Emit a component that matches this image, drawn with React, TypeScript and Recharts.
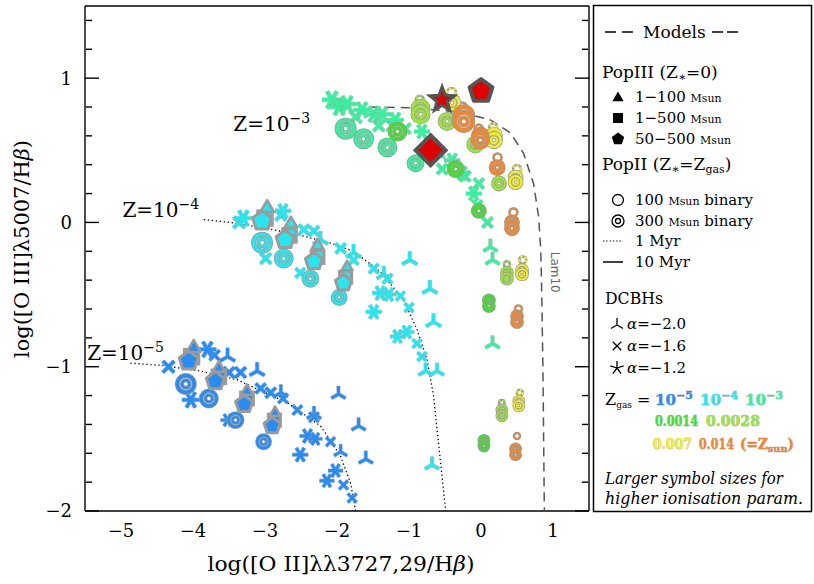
import { ScatterChart, Scatter, XAxis, YAxis } from "recharts";

const FONT = "'DejaVu Serif', 'Liberation Serif', serif";
const GRAY = "#9b9b9b";

// gas metallicity colours
const zColors = {
  z5: "#2a8cf0",
  z4: "#27e6f0",
  z3: "#38f0a0",
  z14: "#3ee02a",
  z28: "#9be636",
  z7: "#f3ef26",
  zsun: "#f3862a",
};

const xDomain = [-5.5, 1.5];
const yDomain = [-2, 1.5];
const xMajor = [-5, -4, -3, -2, -1, 0, 1];
const xMinor = [-4.5, -3.5, -2.5, -1.5, -0.5, 0.5];
const yMajor = [-2, -1, 0, 1];
const yMinor = [-1.8, -1.6, -1.4, -1.2, -0.8, -0.6, -0.4, -0.2, 0.2, 0.4, 0.6, 0.8, 1.2, 1.4];

// ---- Z = 1e-5
const z5Pent = [{ x: -4.06, y: -0.96, s: 1 }, { x: -3.69, y: -1.1, s: 0.95 }, { x: -3.29, y: -1.26, s: 0.9 }, { x: -2.9, y: -1.41, s: 0.85 }];
const z5Tria = [{ x: -3.99, y: -0.87, s: 1 }, { x: -3.64, y: -1.01, s: 0.9 }, { x: -3.25, y: -1.17, s: 0.85 }, { x: -2.86, y: -1.32, s: 0.8 }];
const z5Sq = [{ x: -4.02, y: -0.93, s: 0.9 }, { x: -3.64, y: -1.07, s: 0.85 }, { x: -3.25, y: -1.22, s: 0.8 }, { x: -2.87, y: -1.37, s: 0.75 }];
const z5Dc = [{ x: -4.1, y: -1.12, s: 1 }, { x: -3.78, y: -1.22, s: 0.9 }, { x: -3.41, y: -1.37, s: 0.8 }, { x: -3.02, y: -1.52, s: 0.75 }];
const z5Cross = [
  { x: -4.34, y: -1.0, s: 0.9 }, { x: -3.7, y: -0.92, s: 0.8 }, { x: -3.5, y: -1.04, s: 0.85 }, { x: -3.34, y: -1.04, s: 0.85 },
  { x: -3.06, y: -1.15, s: 0.8 }, { x: -2.92, y: -1.18, s: 0.8 }, { x: -2.75, y: -1.22, s: 0.75 }, { x: -2.55, y: -1.3, s: 0.75 },
  { x: -2.32, y: -1.35, s: 0.75 }, { x: -2.09, y: -1.52, s: 0.7 }, { x: -1.91, y: -1.82, s: 0.7 }, { x: -1.79, y: -1.91, s: 0.7 },
];
const z5Tri = [
  { x: -3.52, y: -0.93, s: 0.8 }, { x: -3.11, y: -1.03, s: 0.8 }, { x: -2.78, y: -1.18, s: 0.75 }, { x: -2.32, y: -1.33, s: 0.75 },
  { x: -1.98, y: -1.19, s: 0.75 }, { x: -1.7, y: -1.41, s: 0.75 }, { x: -1.6, y: -1.64, s: 0.75 }, { x: -1.95, y: -1.59, s: 0.7 },
];
const z5Ast = [
  { x: -3.8, y: -0.88, s: 0.9 }, { x: -4.03, y: -1.23, s: 0.9 }, { x: -3.52, y: -1.37, s: 0.7 }, { x: -2.51, y: -1.61, s: 0.8 },
  { x: -2.41, y: -1.48, s: 0.8 }, { x: -2.3, y: -1.5, s: 0.7 }, { x: -2.14, y: -1.79, s: 0.75 }, { x: -2.02, y: -1.72, s: 0.75 },
];

// ---- Z = 1e-4
const z4Pent = [{ x: -3.04, y: 0.01, s: 1 }, { x: -2.72, y: -0.12, s: 0.95 }, { x: -2.32, y: -0.27, s: 0.9 }, { x: -1.91, y: -0.42, s: 0.85 }];
const z4Tria = [{ x: -2.97, y: 0.1, s: 1 }, { x: -2.64, y: -0.01, s: 0.9 }, { x: -2.27, y: -0.16, s: 0.85 }, { x: -1.86, y: -0.31, s: 0.8 }];
const z4Sq = [{ x: -3.0, y: 0.03, s: 0.9 }, { x: -2.66, y: -0.09, s: 0.85 }, { x: -2.27, y: -0.24, s: 0.8 }, { x: -1.88, y: -0.38, s: 0.75 }];
const z4Dc = [{ x: -3.04, y: -0.14, s: 1 }, { x: -2.74, y: -0.25, s: 0.9 }, { x: -2.37, y: -0.39, s: 0.8 }, { x: -1.97, y: -0.52, s: 0.75 }];
const z4Cross = [
  { x: -3.36, y: 0.0, s: 0.9 }, { x: -2.99, y: -0.25, s: 0.85 }, { x: -2.78, y: 0.05, s: 0.85 }, { x: -2.46, y: -0.05, s: 0.8 },
  { x: -2.32, y: -0.06, s: 0.8 }, { x: -2.51, y: -0.35, s: 0.75 }, { x: -1.95, y: -0.18, s: 0.8 }, { x: -1.77, y: -0.26, s: 0.75 },
  { x: -1.49, y: -0.32, s: 0.75 }, { x: -1.3, y: -0.39, s: 0.75 }, { x: -1.12, y: -0.51, s: 0.7 }, { x: -1.0, y: -0.59, s: 0.7 },
  { x: -0.89, y: -0.84, s: 0.7 }, { x: -0.82, y: -0.93, s: 0.7 },
];
const z4Tri = [
  { x: -2.23, y: -0.12, s: 0.8 }, { x: -1.77, y: -0.21, s: 0.8 }, { x: -1.35, y: -0.36, s: 0.75 }, { x: -0.99, y: -0.26, s: 0.8 },
  { x: -0.71, y: -0.46, s: 0.8 }, { x: -0.66, y: -0.69, s: 0.8 }, { x: -0.77, y: -1.03, s: 0.75 }, { x: -0.61, y: -1.03, s: 0.75 },
  { x: -0.68, y: -1.68, s: 0.75 },
];
const z4Ast = [
  { x: -3.3, y: 0.03, s: 0.9 }, { x: -2.75, y: 0.08, s: 0.8 }, { x: -1.49, y: -0.62, s: 0.8 }, { x: -1.4, y: -0.49, s: 0.8 },
  { x: -1.28, y: -0.5, s: 0.75 }, { x: -1.16, y: -0.79, s: 0.75 }, { x: -1.03, y: -0.76, s: 0.75 },
];

// ---- Z = 1e-3
const z3Ast = [
  { x: -2.07, y: 0.85, s: 1 }, { x: -1.97, y: 0.8, s: 0.95 }, { x: -1.86, y: 0.82, s: 0.95 }, { x: -1.65, y: 0.78, s: 0.9 },
  { x: -1.49, y: 0.75, s: 0.9 }, { x: -1.37, y: 0.75, s: 0.85 }, { x: -1.19, y: 0.71, s: 0.85 }, { x: -0.82, y: 0.63, s: 0.8 },
  { x: -0.4, y: 0.43, s: 0.8 }, { x: -0.26, y: 0.34, s: 0.8 }, { x: -0.1, y: 0.2, s: 0.8 },
];
const z3Cross = [
  { x: -1.74, y: 0.73, s: 0.9 }, { x: -1.42, y: 0.67, s: 0.85 }, { x: -1.23, y: 0.67, s: 0.85 }, { x: -1.05, y: 0.65, s: 0.8 },
  { x: -0.54, y: 0.37, s: 0.8 }, { x: -0.22, y: 0.32, s: 0.8 }, { x: -0.03, y: 0.27, s: 0.8 }, { x: 0.09, y: 0.0, s: 0.8 },
  { x: -0.05, y: 0.12, s: 0.75 },
];
const z3Tri = [{ x: 0.13, y: -0.17, s: 0.75 }, { x: 0.16, y: -0.26, s: 0.75 }, { x: 0.16, y: -0.84, s: 0.75 }, { x: -0.58, y: 0.47, s: 0.6 }];
const z3Dc = [{ x: -1.88, y: 0.65, s: 1 }, { x: -1.63, y: 0.58, s: 0.95 }, { x: -1.3, y: 0.52, s: 0.9 }, { x: -0.91, y: 0.41, s: 0.8 }];

// ---- higher gas metallicities (PopII binaries)
const z14Dc = [
  { x: -1.16, y: 0.63, s: 0.9 }, { x: -0.35, y: 0.37, s: 0.8 }, { x: -0.03, y: 0.08, s: 0.7 }, { x: 0.11, y: -0.54, s: 0.6 },
  { x: 0.11, y: -0.58, s: 0.6 }, { x: 0.04, y: -1.51, s: 0.55 }, { x: 0.04, y: -1.55, s: 0.55 },
];
const z28Dc = [
  { x: -0.84, y: 0.79, s: 0.9 }, { x: -0.84, y: 0.75, s: 0.9 }, { x: -0.47, y: 0.7, s: 0.85 }, { x: -0.08, y: 0.54, s: 0.8 },
  { x: 0.25, y: 0.27, s: 0.7 }, { x: 0.36, y: -0.35, s: 0.6 }, { x: 0.36, y: -0.39, s: 0.6 }, { x: 0.29, y: -1.3, s: 0.55 },
  { x: 0.29, y: -1.34, s: 0.55 },
];
const z7Dc = [
  { x: -0.4, y: 0.83, s: 0.8 }, { x: 0.18, y: 0.6, s: 0.8 }, { x: 0.18, y: 0.57, s: 0.8 }, { x: 0.48, y: 0.31, s: 0.7 },
  { x: 0.48, y: 0.28, s: 0.7 }, { x: 0.57, y: -0.33, s: 0.6 }, { x: 0.57, y: -0.36, s: 0.6 }, { x: 0.525, y: -1.24, s: 0.55 },
  { x: 0.525, y: -1.27, s: 0.55 },
];
const zSunDc = [
  { x: -0.24, y: 0.74, s: 1.05 }, { x: -0.24, y: 0.7, s: 1.05 }, { x: -0.01, y: 0.6, s: 0.85 }, { x: -0.01, y: 0.57, s: 0.85 },
  { x: 0.225, y: 0.38, s: 0.75 }, { x: 0.43, y: 0.0, s: 0.7 }, { x: 0.43, y: -0.04, s: 0.7 }, { x: 0.5, y: -0.65, s: 0.6 },
  { x: 0.5, y: -0.69, s: 0.6 }, { x: 0.48, y: -1.57, s: 0.55 }, { x: 0.48, y: -1.61, s: 0.55 },
];
const z7Ring = [{ x: -0.41, y: 0.9, s: 0.9 }, { x: 0.17, y: 0.66, s: 0.8 }, { x: 0.5, y: 0.37, s: 0.8 }, { x: 0.58, y: -0.26, s: 0.7 }, { x: 0.54, y: -1.18, s: 0.6 }];
const zSunRing = [{ x: -0.26, y: 0.8, s: 0.9 }, { x: -0.03, y: 0.65, s: 0.8 }, { x: 0.23, y: 0.45, s: 0.8 }, { x: 0.45, y: 0.07, s: 0.8 }, { x: 0.52, y: -0.6, s: 0.7 }, { x: 0.5, y: -1.48, s: 0.6 }];
const z28Ring = [{ x: -0.85, y: 0.85, s: 0.8 }, { x: 0.36, y: -0.29, s: 0.6 }, { x: 0.29, y: -1.25, s: 0.55 }];

// ---- red symbols
const redStar = [{ x: -0.54, y: 0.85, s: 1 }];
const redPent = [{ x: 0.0, y: 0.91, s: 1 }];
const redDiamond = [{ x: -0.7, y: 0.5, s: 1 }];

// ---- model curves
const lam10Curve = [
  { x: -1.53, y: 0.8 }, { x: -1.0, y: 0.795 }, { x: -0.61, y: 0.78 }, { x: -0.25, y: 0.76 }, { x: 0.13, y: 0.71 },
  { x: 0.41, y: 0.62 }, { x: 0.59, y: 0.48 }, { x: 0.73, y: 0.27 }, { x: 0.8, y: 0.04 }, { x: 0.83, y: -0.19 },
  { x: 0.84, y: -0.4 }, { x: 0.86, y: -1.0 }, { x: 0.88, y: -2.0 },
];
const z4Curve = [
  { x: -3.85, y: 0.02 }, { x: -3.48, y: 0.0 }, { x: -3.0, y: -0.04 }, { x: -2.5, y: -0.09 }, { x: -2.07, y: -0.146 },
  { x: -1.77, y: -0.2 }, { x: -1.4, y: -0.34 }, { x: -1.08, y: -0.535 }, { x: -0.89, y: -0.74 }, { x: -0.75, y: -0.95 },
  { x: -0.66, y: -1.2 }, { x: -0.49, y: -2.0 },
];
const z5Curve = [
  { x: -4.87, y: -0.975 }, { x: -4.45, y: -0.99 }, { x: -3.9, y: -1.03 }, { x: -3.39, y: -1.09 }, { x: -2.69, y: -1.25 },
  { x: -2.23, y: -1.41 }, { x: -1.95, y: -1.62 }, { x: -1.81, y: -1.81 }, { x: -1.74, y: -2.0 },
];

const zLabels = [
  { x: -3.44, y: 0.635, t: "−3" },
  { x: -4.98, y: 0.04, t: "−4" },
  { x: -5.47, y: -0.95, t: "−5" },
];
const lamLabel = [{ x: 0.97, y: -0.345, t: "Lam10" }];

const rad = (d: number) => (d * Math.PI) / 180;
const polyPts = (cx: number, cy: number, r: number, n: number, rot: number) =>
  Array.from({ length: n }, (_, i) => {
    const a = rad(rot + (i * 360) / n);
    return `${cx + r * Math.cos(a)},${cy + r * Math.sin(a)}`;
  }).join(" ");
const starPts = (cx: number, cy: number, R: number, r: number) =>
  Array.from({ length: 10 }, (_, i) => {
    const a = rad(-90 + i * 36);
    const rr = i % 2 === 0 ? R : r;
    return `${cx + rr * Math.cos(a)},${cy + rr * Math.sin(a)}`;
  }).join(" ");
const armPath = (cx: number, cy: number, L: number, angles: number[]) =>
  angles.map((a) => `M${cx},${cy}L${cx + L * Math.cos(rad(a))},${cy + L * Math.sin(rad(a))}`).join("");

const armAngles: Record<string, number[]> = {
  tri: [-90, 30, 150],
  cross: [45, 135, 225, 315],
  ast: [0, 60, 120, 180, 240, 300],
  legAst: [-90, -18, 54, 126, 198],
};

function mark(kind: string, color: string, cx: number, cy: number, s: number) {
  switch (kind) {
    case "tri":
    case "cross":
    case "ast": {
      const L = (kind === "tri" ? 11 : kind === "cross" ? 9 : 10) * s;
      const w = 1.4 + 2.2 * s;
      const d = armPath(cx, cy, L, armAngles[kind]);
      return (
        <g>
          <path d={d} stroke={GRAY} strokeOpacity={0.55} strokeWidth={w + 1.4} fill="none" />
          <path d={d} stroke={color} strokeWidth={w} fill="none" />
        </g>
      );
    }
    case "pent":
      return <polygon points={polyPts(cx, cy, 10 * s, 5, -90)} fill={color} stroke={GRAY} strokeWidth={3} strokeLinejoin="round" />;
    case "tria":
      return <polygon points={polyPts(cx, cy, 8 * s, 3, -90)} fill={color} stroke={GRAY} strokeWidth={2.5} strokeLinejoin="round" />;
    case "sq":
      return <rect x={cx - 8 * s} y={cy - 8 * s} width={16 * s} height={16 * s} fill={color} stroke={GRAY} strokeWidth={3} />;
    case "dc": {
      const r1 = 8.5 * s, w1 = 3.4 * s, r2 = 3.8 * s, w2 = 2.4 * s;
      return (
        <g>
          <circle cx={cx} cy={cy} r={r1 + w1 / 2 + 0.8} fill={GRAY} />
          <circle cx={cx} cy={cy} r={r1 + w1 / 2} fill={color} />
          <circle cx={cx} cy={cy} r={r1 - w1 / 2} fill={GRAY} />
          <circle cx={cx} cy={cy} r={r1 - w1 / 2 - 0.8} fill="#fff" />
          <circle cx={cx} cy={cy} r={r2 + w2 / 2 + 0.8} fill={GRAY} />
          <circle cx={cx} cy={cy} r={r2 + w2 / 2} fill={color} />
          <circle cx={cx} cy={cy} r={r2 - w2 / 2} fill={GRAY} />
          <circle cx={cx} cy={cy} r={Math.max(r2 - w2 / 2 - 0.8, 0.5)} fill="#fff" />
        </g>
      );
    }
    case "ring":
      return (
        <g>
          <circle cx={cx} cy={cy} r={5 * s} fill="#fff" stroke={GRAY} strokeWidth={2.6} />
          <circle cx={cx} cy={cy} r={5 * s} fill="none" stroke={color} strokeWidth={1.8} strokeDasharray="2.5 2" />
        </g>
      );
    case "rstar":
      return <polygon points={starPts(cx, cy, 13, 5.5)} fill="#dd0000" stroke="#555" strokeWidth={3} />;
    case "rpent":
      return <polygon points={polyPts(cx, cy, 12, 5, -90)} fill="#dd0000" stroke="#555" strokeWidth={4} strokeLinejoin="round" />;
    case "rdiam":
      return <polygon points={`${cx},${cy - 15} ${cx + 15},${cy} ${cx},${cy + 15} ${cx - 15},${cy}`} fill="#dd0000" stroke="#555" strokeWidth={4} />;
    default:
      return <g />;
  }
}

const makeShape = (kind: string, color: string) => (props: any) => {
  const { cx, cy, payload } = props;
  if (cx == null || cy == null) return <g />;
  return mark(kind, color, cx, cy, payload?.s ?? 1);
};
const noShape = () => <g />;
const noTick = () => <g />;

const zLabelShape = (props: any) => (
  <text x={props.cx} y={props.cy} fontFamily={FONT} fontSize={20} fill="#000">
    Z=10<tspan dy={-8} fontSize={14}>{props.payload.t}</tspan>
  </text>
);
const lamShape = (props: any) => (
  <text x={props.cx} y={props.cy} transform={`rotate(90 ${props.cx} ${props.cy})`} textAnchor="middle"
    fontFamily="'DejaVu Sans', sans-serif" fontSize={12} fill="#666">
    {props.payload.t}
  </text>
);

const series = [
  { key: "z5tri", data: z5Tri, kind: "tri", color: zColors.z5 },
  { key: "z5cross", data: z5Cross, kind: "cross", color: zColors.z5 },
  { key: "z5ast", data: z5Ast, kind: "ast", color: zColors.z5 },
  { key: "z5sq", data: z5Sq, kind: "sq", color: zColors.z5 },
  { key: "z5tria", data: z5Tria, kind: "tria", color: zColors.z5 },
  { key: "z5dc", data: z5Dc, kind: "dc", color: zColors.z5 },
  { key: "z5pent", data: z5Pent, kind: "pent", color: zColors.z5 },
  { key: "z4tri", data: z4Tri, kind: "tri", color: zColors.z4 },
  { key: "z4cross", data: z4Cross, kind: "cross", color: zColors.z4 },
  { key: "z4ast", data: z4Ast, kind: "ast", color: zColors.z4 },
  { key: "z4sq", data: z4Sq, kind: "sq", color: zColors.z4 },
  { key: "z4tria", data: z4Tria, kind: "tria", color: zColors.z4 },
  { key: "z4dc", data: z4Dc, kind: "dc", color: zColors.z4 },
  { key: "z4pent", data: z4Pent, kind: "pent", color: zColors.z4 },
  { key: "z3tri", data: z3Tri, kind: "tri", color: zColors.z3 },
  { key: "z3cross", data: z3Cross, kind: "cross", color: zColors.z3 },
  { key: "z3ast", data: z3Ast, kind: "ast", color: zColors.z3 },
  { key: "z3dc", data: z3Dc, kind: "dc", color: zColors.z3 },
  { key: "z7ring", data: z7Ring, kind: "ring", color: zColors.z7 },
  { key: "zsunring", data: zSunRing, kind: "ring", color: zColors.zsun },
  { key: "z28ring", data: z28Ring, kind: "ring", color: zColors.z28 },
  { key: "z14dc", data: z14Dc, kind: "dc", color: zColors.z14 },
  { key: "z28dc", data: z28Dc, kind: "dc", color: zColors.z28 },
  { key: "z7dc", data: z7Dc, kind: "dc", color: zColors.z7 },
  { key: "zsundc", data: zSunDc, kind: "dc", color: zColors.zsun },
  { key: "rdiam", data: redDiamond, kind: "rdiam", color: "#dd0000" },
  { key: "rstar", data: redStar, kind: "rstar", color: "#dd0000" },
  { key: "rpent", data: redPent, kind: "rpent", color: "#dd0000" },
];

const curves = [
  { key: "lam10", data: lam10Curve, stroke: "#555", width: 1.5, dash: "9 6" },
  { key: "z4curve", data: z4Curve, stroke: "#000", width: 1.3, dash: "1.3 2.7" },
  { key: "z5curve", data: z5Curve, stroke: "#000", width: 1.3, dash: "1.3 2.7" },
];

const fmt = (v: number) => (v < 0 ? `−${-v}` : `${v}`);
const frame = { stroke: "#000", strokeWidth: 1.4 };
const tickFont = { fontSize: 18, fill: "#000", fontFamily: FONT };

const XTitle = (props: any) => {
  const vb = props.viewBox ?? { x: 85, y: 511, width: 504 };
  return (
    <text x={vb.x + vb.width / 2 + 4} y={vb.y + 60} textAnchor="middle" fontFamily={FONT} fontSize={21}
      textLength={267} lengthAdjust="spacingAndGlyphs" fill="#000">
      log([O II]λλ3727,29/H<tspan fontStyle="italic">β</tspan>)
    </text>
  );
};
const YTitle = (props: any) => {
  const vb = props.viewBox ?? { x: 0, y: 6, width: 85, height: 505 };
  const cy = vb.y + vb.height / 2 - 9.5;
  return (
    <text x={29} y={cy} transform={`rotate(-90 29 ${cy})`} textAnchor="middle" fontFamily={FONT} fontSize={21}
      textLength={218} lengthAdjust="spacingAndGlyphs" fill="#000">
      log([O III]λ5007/H<tspan fontStyle="italic">β</tspan>)
    </text>
  );
};

const zText = (color: string) => ({ fill: color, stroke: "#8a8a8a", strokeWidth: 0.5, paintOrder: "stroke" as const, fontWeight: 700 });

function LegendPanel() {
  const t = { fontFamily: FONT, fill: "#000" };
  return (
    <svg width={814} height={584} style={{ position: "absolute", left: 0, top: 0, pointerEvents: "none" }}>
      <rect x={593.5} y={5.5} width={218} height={506} fill="none" stroke="#000" strokeWidth={1.5} />
      <g stroke="#000" strokeWidth={1.5}>
        <line x1={605} x2={616} y1={32} y2={32} /><line x1={622} x2={633} y1={32} y2={32} />
        <line x1={712} x2={723} y1={32} y2={32} /><line x1={727} x2={738} y1={32} y2={32} />
      </g>
      <text x={643} y={38} fontSize={17} {...t}>Models</text>

      <text x={602} y={78} fontSize={17} {...t}>PopIII (Z<tspan fontSize={12} dy={3}>∗</tspan><tspan dy={-3}>=0)</tspan></text>
      <polygon points={polyPts(618, 98, 6.5, 3, -90)} fill="#000" />
      <rect x={613} y={113} width={10} height={10} fill="#000" />
      <polygon points={polyPts(618, 139, 6.5, 5, -90)} fill="#000" />
      <text x={635} y={102} fontSize={15} {...t}>1−100 <tspan fontSize={11}>Msun</tspan></text>
      <text x={635} y={123} fontSize={15} {...t}>1−500 <tspan fontSize={11}>Msun</tspan></text>
      <text x={635} y={144} fontSize={15} {...t}>50−500 <tspan fontSize={11}>Msun</tspan></text>

      <text x={602} y={170} fontSize={17} {...t}>PopII (Z<tspan fontSize={12} dy={3}>∗</tspan><tspan dy={-3}>=Z</tspan><tspan fontSize={11} dy={3}>gas</tspan><tspan dy={-3}>)</tspan></text>
      <circle cx={618} cy={200} r={5.5} fill="none" stroke="#000" strokeWidth={1.3} />
      <circle cx={618} cy={221} r={6} fill="none" stroke="#000" strokeWidth={1.3} />
      <circle cx={618} cy={221} r={2.5} fill="none" stroke="#000" strokeWidth={1.3} />
      <line x1={603} x2={623} y1={241} y2={241} stroke="#000" strokeWidth={1.2} strokeDasharray="1.3 2" />
      <line x1={603} x2={623} y1={262} y2={262} stroke="#000" strokeWidth={1.5} />
      <text x={635} y={205} fontSize={15} {...t}>100 <tspan fontSize={11}>Msun</tspan> binary</text>
      <text x={635} y={226} fontSize={15} {...t}>300 <tspan fontSize={11}>Msun</tspan> binary</text>
      <text x={635} y={246} fontSize={15} {...t}>1 Myr</text>
      <text x={635} y={267} fontSize={15} {...t}>10 Myr</text>

      <text x={605} y={304} fontSize={17} textLength={58} lengthAdjust="spacingAndGlyphs" {...t}>DCBHs</text>
      <path d={armPath(617, 325, 7, armAngles.tri)} stroke="#000" strokeWidth={1.3} fill="none" />
      <path d={armPath(617, 346, 6, armAngles.cross)} stroke="#000" strokeWidth={1.3} fill="none" />
      <path d={armPath(617, 368, 7, armAngles.legAst)} stroke="#000" strokeWidth={1.3} fill="none" />
      <text x={627} y={329} fontSize={15} {...t}><tspan fontStyle="italic">α</tspan>=−2.0</text>
      <text x={627} y={351} fontSize={15} {...t}><tspan fontStyle="italic">α</tspan>=−1.6</text>
      <text x={627} y={373} fontSize={15} {...t}><tspan fontStyle="italic">α</tspan>=−1.2</text>

      <text x={605} y={405} fontSize={16} {...t}>Z<tspan fontSize={9} dy={3}>gas</tspan><tspan dy={-3}> =</tspan></text>
      <text x={655} y={405} fontSize={15} textLength={38} lengthAdjust="spacingAndGlyphs" {...zText(zColors.z5)} fontFamily={FONT}>10<tspan fontSize={11} dy={-6}>−5</tspan></text>
      <text x={700} y={405} fontSize={15} textLength={38} lengthAdjust="spacingAndGlyphs" {...zText(zColors.z4)} fontFamily={FONT}>10<tspan fontSize={11} dy={-6}>−4</tspan></text>
      <text x={745} y={405} fontSize={15} textLength={38} lengthAdjust="spacingAndGlyphs" {...zText(zColors.z3)} fontFamily={FONT}>10<tspan fontSize={11} dy={-6}>−3</tspan></text>
      <text x={655} y={426} fontSize={14} textLength={43} lengthAdjust="spacingAndGlyphs" {...zText(zColors.z14)} fontFamily={FONT}>0.0014</text>
      <text x={706} y={426} fontSize={14} textLength={54} lengthAdjust="spacingAndGlyphs" {...zText(zColors.z28)} fontFamily={FONT}>0.0028</text>
      <text x={653} y={449} fontSize={14} textLength={39} lengthAdjust="spacingAndGlyphs" {...zText(zColors.z7)} fontFamily={FONT}>0.007</text>
      <text x={699} y={449} fontSize={14} textLength={35} lengthAdjust="spacingAndGlyphs" {...zText(zColors.zsun)} fontFamily={FONT}>0.014</text>
      <text x={740} y={449} fontSize={14} textLength={54} lengthAdjust="spacingAndGlyphs" {...zText(zColors.zsun)} fontFamily={FONT}>(=Z<tspan fontSize={10} dy={3}>sun</tspan><tspan dy={-3}>)</tspan></text>

      <text x={605} y={484} fontSize={16} fontStyle="italic" textLength={178} lengthAdjust="spacingAndGlyphs" {...t}>Larger symbol sizes for</text>
      <text x={605} y={504} fontSize={16} fontStyle="italic" textLength={198} lengthAdjust="spacingAndGlyphs" {...t}>higher ionisation param.</text>
    </svg>
  );
}

export default function App() {
  return (
    <div style={{ position: "absolute", left: 0, top: 0, width: 814, height: 584, background: "#fff" }}>
      <ScatterChart width={814} height={584} margin={{ top: 6, right: 225, bottom: 0, left: 0 }}>
        <XAxis xAxisId="x" dataKey="x" type="number" domain={xDomain} allowDataOverflow ticks={xMajor} interval={0}
          height={73} tickLine={false} axisLine={false} tickSize={0} tickMargin={13} tick={tickFont} tickFormatter={fmt} label={XTitle} />
        <YAxis yAxisId="y" dataKey="y" type="number" domain={yDomain} allowDataOverflow ticks={yMajor} interval={0}
          width={85} tickLine={false} axisLine={false} tickSize={0} tickMargin={13} tick={tickFont} tickFormatter={fmt} label={YTitle} />

        <XAxis xAxisId="bMaj" orientation="bottom" mirror height={1} type="number" domain={xDomain} allowDataOverflow
          ticks={xMajor} interval={0} tick={noTick} tickSize={13} tickLine={frame} axisLine={frame} />
        <XAxis xAxisId="bMin" orientation="bottom" mirror height={1} type="number" domain={xDomain} allowDataOverflow
          ticks={xMinor} interval={0} tick={noTick} tickSize={7} tickLine={frame} axisLine={false} />
        <XAxis xAxisId="tMaj" orientation="top" mirror height={1} type="number" domain={xDomain} allowDataOverflow
          ticks={xMajor} interval={0} tick={noTick} tickSize={13} tickLine={frame} axisLine={frame} />
        <XAxis xAxisId="tMin" orientation="top" mirror height={1} type="number" domain={xDomain} allowDataOverflow
          ticks={xMinor} interval={0} tick={noTick} tickSize={7} tickLine={frame} axisLine={false} />
        <YAxis yAxisId="lMaj" orientation="left" mirror width={1} type="number" domain={yDomain} allowDataOverflow
          ticks={yMajor} interval={0} tick={noTick} tickSize={14} tickLine={frame} axisLine={frame} />
        <YAxis yAxisId="lMin" orientation="left" mirror width={1} type="number" domain={yDomain} allowDataOverflow
          ticks={yMinor} interval={0} tick={noTick} tickSize={6} tickLine={frame} axisLine={false} />
        <YAxis yAxisId="rMaj" orientation="right" mirror width={1} type="number" domain={yDomain} allowDataOverflow
          ticks={yMajor} interval={0} tick={noTick} tickSize={14} tickLine={frame} axisLine={frame} />
        <YAxis yAxisId="rMin" orientation="right" mirror width={1} type="number" domain={yDomain} allowDataOverflow
          ticks={yMinor} interval={0} tick={noTick} tickSize={6} tickLine={frame} axisLine={false} />

        {curves.map((c) => (
          <Scatter key={c.key} xAxisId="x" yAxisId="y" data={c.data} shape={noShape} isAnimationActive={false}
            line={{ stroke: c.stroke, strokeWidth: c.width, strokeDasharray: c.dash }} />
        ))}
        {series.map((sr) => (
          <Scatter key={sr.key} xAxisId="x" yAxisId="y" data={sr.data} shape={makeShape(sr.kind, sr.color)} isAnimationActive={false} />
        ))}
        <Scatter xAxisId="x" yAxisId="y" data={zLabels} shape={zLabelShape} isAnimationActive={false} />
        <Scatter xAxisId="x" yAxisId="y" data={lamLabel} shape={lamShape} isAnimationActive={false} />
      </ScatterChart>
      <LegendPanel />
    </div>
  );
}
